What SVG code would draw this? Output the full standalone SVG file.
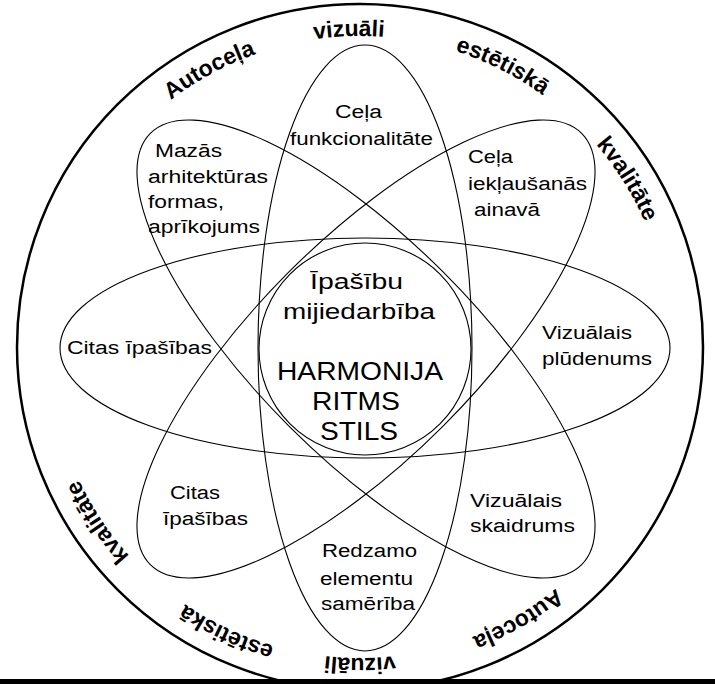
<svg xmlns="http://www.w3.org/2000/svg" width="715" height="684" viewBox="0 0 715 684">
<style>
.shape{fill:none;stroke:#000;stroke-width:1.1}
.outer{fill:none;stroke:#000;stroke-width:2.5}
.lbl{font-family:"Liberation Sans",Arial,sans-serif;font-size:18px;fill:#000}
.big{font-size:22px}
.huge{font-size:25px}
.ring{font-family:"Liberation Sans",Arial,sans-serif;font-size:23px;font-weight:bold;fill:#000}
</style>
<defs>
<path id="ringPath" d="M49,347 A311,311 0 1 1 671,347 A311,311 0 1 1 49,347"/>
</defs>
<rect x="0" y="0" width="715" height="684" fill="#fff"/>
<g id="frame">
<circle class="outer" cx="360" cy="347" r="343"/>
<text class="ring"><textPath href="#ringPath" startOffset="17.08%" text-anchor="middle">Autoceļa</textPath></text>
<text class="ring"><textPath href="#ringPath" startOffset="24.44%" text-anchor="middle">vizuāli</textPath></text>
<text class="ring"><textPath href="#ringPath" startOffset="32.47%" text-anchor="middle">estētiskā</textPath></text>
<text class="ring"><textPath href="#ringPath" startOffset="41.06%" text-anchor="middle">kvalitāte</textPath></text>
<text class="ring"><textPath href="#ringPath" startOffset="66.64%" text-anchor="middle">Autoceļa</textPath></text>
<text class="ring"><textPath href="#ringPath" startOffset="75%" text-anchor="middle">vizuāli</textPath></text>
<text class="ring"><textPath href="#ringPath" startOffset="81.97%" text-anchor="middle">estētiskā</textPath></text>
<text class="ring"><textPath href="#ringPath" startOffset="90.64%" text-anchor="middle">kvalitāte</textPath></text>
</g>
<g id="ellipse-vertical">
<ellipse class="shape" cx="365" cy="348" rx="107" ry="303"/>
<text class="lbl" x="335" y="118" textLength="47" lengthAdjust="spacingAndGlyphs">Ceļa</text>
<text class="lbl" x="290" y="145" textLength="143" lengthAdjust="spacingAndGlyphs">funkcionalitāte</text>
<text class="lbl" x="322" y="557" textLength="95" lengthAdjust="spacingAndGlyphs">Redzamo</text>
<text class="lbl" x="320" y="585" textLength="93" lengthAdjust="spacingAndGlyphs">elementu</text>
<text class="lbl" x="321" y="610" textLength="94" lengthAdjust="spacingAndGlyphs">samērība</text>
</g>
<g id="ellipse-horizontal">
<ellipse class="shape" cx="365" cy="348" rx="305" ry="110"/>
<text class="lbl" x="67" y="354" textLength="145" lengthAdjust="spacingAndGlyphs">Citas īpašības</text>
<text class="lbl" x="542" y="339" textLength="90" lengthAdjust="spacingAndGlyphs">Vizuālais</text>
<text class="lbl" x="542" y="365" textLength="110" lengthAdjust="spacingAndGlyphs">plūdenums</text>
</g>
<g id="ellipse-diag-a">
<ellipse class="shape" cx="366" cy="349" rx="305" ry="109" transform="rotate(45 366 349)"/>
<text class="lbl" x="155" y="157" textLength="67" lengthAdjust="spacingAndGlyphs">Mazās</text>
<text class="lbl" x="148" y="183" textLength="120" lengthAdjust="spacingAndGlyphs">arhitektūras</text>
<text class="lbl" x="148" y="208" textLength="76" lengthAdjust="spacingAndGlyphs">formas,</text>
<text class="lbl" x="148" y="233" textLength="112" lengthAdjust="spacingAndGlyphs">aprīkojums</text>
<text class="lbl" x="470" y="507" textLength="92" lengthAdjust="spacingAndGlyphs">Vizuālais</text>
<text class="lbl" x="470" y="532" textLength="105" lengthAdjust="spacingAndGlyphs">skaidrums</text>
</g>
<g id="ellipse-diag-b">
<ellipse class="shape" cx="366" cy="349" rx="305" ry="109" transform="rotate(-45 366 349)"/>
<text class="lbl" x="468" y="163" textLength="45" lengthAdjust="spacingAndGlyphs">Ceļa</text>
<text class="lbl" x="468" y="190" textLength="119" lengthAdjust="spacingAndGlyphs">iekļaušanās</text>
<text class="lbl" x="474" y="216" textLength="66" lengthAdjust="spacingAndGlyphs">ainavā</text>
<text class="lbl" x="170" y="499" textLength="50" lengthAdjust="spacingAndGlyphs">Citas</text>
<text class="lbl" x="163" y="525" textLength="85" lengthAdjust="spacingAndGlyphs">īpašības</text>
</g>
<g id="center">
<circle class="shape" cx="365" cy="349" r="106"/>
<text class="lbl big" x="310" y="289" textLength="93" lengthAdjust="spacingAndGlyphs">Īpašību</text>
<text class="lbl big" x="283" y="319" textLength="152" lengthAdjust="spacingAndGlyphs">mijiedarbība</text>
<text class="lbl huge" x="277" y="380" textLength="166" lengthAdjust="spacingAndGlyphs">HARMONIJA</text>
<text class="lbl huge" x="312" y="410" textLength="88" lengthAdjust="spacingAndGlyphs">RITMS</text>
<text class="lbl huge" x="320" y="440" textLength="78" lengthAdjust="spacingAndGlyphs">STILS</text>
</g>
<rect id="bottom-bar" x="0" y="679" width="715" height="5" fill="#000"/>
</svg>
